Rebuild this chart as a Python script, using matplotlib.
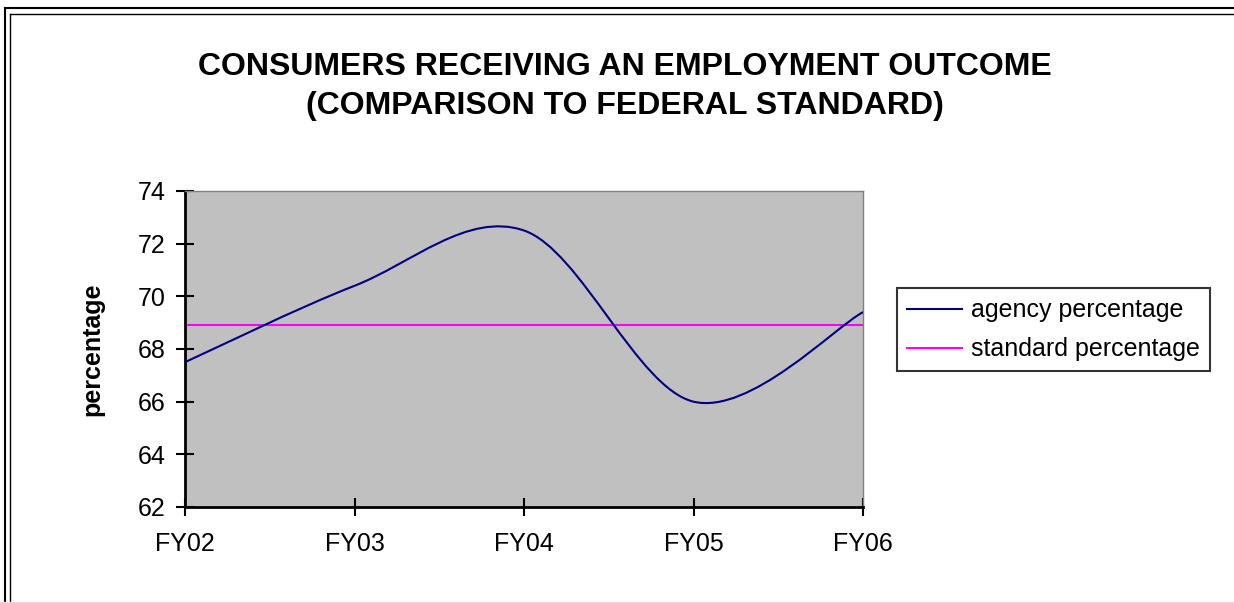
import numpy as np
import matplotlib.pyplot as plt
from matplotlib.path import Path
from matplotlib.patches import PathPatch
from matplotlib.lines import Line2D

plt.rcParams['font.family'] = ['Liberation Sans', 'DejaVu Sans']

# data
years = ["FY02", "FY03", "FY04", "FY05", "FY06"]
agency = [67.5, 70.4, 72.5, 66.0, 69.4]
standard = [68.9, 68.9, 68.9, 68.9, 68.9]

W, H = 1234, 603
fig = plt.figure(figsize=(W / 100, H / 100), dpi=100)
ax = fig.add_axes([185 / W, 1 - 507 / H, (863 - 185) / W, (507 - 191) / H])
ax.set_facecolor('#C0C0C0')

x = np.arange(len(years))


def smooth_path(xs, ys):
    # Excel-style smoothed line: cubic bezier through each point
    pts = np.column_stack([xs, ys]).astype(float)
    n = len(pts)
    verts = [pts[0]]
    codes = [Path.MOVETO]
    for i in range(n - 1):
        p_prev = pts[i - 1] if i > 0 else pts[i]
        p_next = pts[i + 2] if i + 2 < n else pts[i + 1]
        c1 = pts[i] + (pts[i + 1] - p_prev) / 6
        c2 = pts[i + 1] - (p_next - pts[i]) / 6
        verts += [c1, c2, pts[i + 1]]
        codes += [Path.CURVE4] * 3
    return Path(verts, codes)


ax.add_patch(PathPatch(smooth_path(x, agency), facecolor='none',
                       edgecolor='#000080', lw=1.5, zorder=3))
ax.plot(x, standard, color='#FF00FF', lw=1.5, zorder=2)

ax.set_xlim(0, len(years) - 1)
ax.set_ylim(62, 74)
ax.set_xticks(x)
ax.set_xticklabels(years)
ax.set_yticks(np.arange(62, 75, 2))
ax.tick_params(axis='both', direction='inout', length=12.5, width=1.5,
               labelsize=18, colors='black')
ax.tick_params(axis='x', pad=12)
ax.tick_params(axis='y', pad=8)
for s in ['left', 'bottom']:
    ax.spines[s].set_linewidth(2)
    ax.spines[s].set_color('black')
for s in ['top', 'right']:
    ax.spines[s].set_linewidth(1)
    ax.spines[s].set_color('#808080')

ax.set_ylabel('percentage', fontsize=18, fontweight='bold', labelpad=24)

handles = [Line2D([], [], color='#000080', lw=1.5),
           Line2D([], [], color='#FF00FF', lw=1.5)]
leg = fig.legend(handles, ['agency percentage', 'standard percentage'],
                 loc='center left', bbox_to_anchor=(897 / W, 1 - 330 / H),
                 fontsize=18, frameon=True, fancybox=False,
                 edgecolor='black', handlelength=2.2, handletextpad=0.35,
                 borderpad=0.4, labelspacing=0.6, borderaxespad=0)
leg.get_frame().set_linewidth(1.5)

fig.text(625 / W, 1 - 67 / H, 'CONSUMERS RECEIVING AN EMPLOYMENT OUTCOME',
         ha='center', va='center', fontsize=23, fontweight='bold')
fig.text(625 / W, 1 - 106 / H, '(COMPARISON TO FEDERAL STANDARD)',
         ha='center', va='center', fontsize=23, fontweight='bold')

# double frame on left and top, light line at bottom
fig.add_artist(Line2D([5 / W, 5 / W], [0, 1 - 8 / H], color='black', lw=1.5))
fig.add_artist(Line2D([10 / W, 10 / W], [0, 1 - 14 / H], color='black', lw=1))
fig.add_artist(Line2D([5 / W, 1], [1 - 8 / H, 1 - 8 / H], color='black', lw=1.5))
fig.add_artist(Line2D([10 / W, 1], [1 - 14 / H, 1 - 14 / H], color='black', lw=1))
fig.add_artist(Line2D([0, 1], [1 - 602 / H, 1 - 602 / H], color='#E0E0E0', lw=1))

fig.savefig('out.png', dpi=100)
